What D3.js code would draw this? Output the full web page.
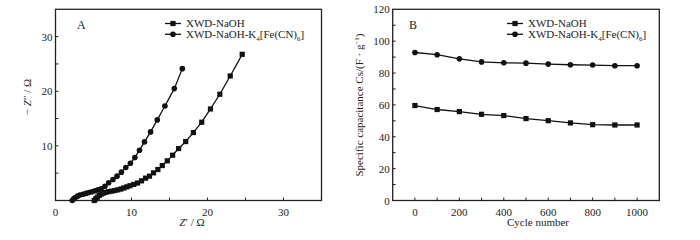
<!DOCTYPE html>
<html>
<head>
<meta charset="utf-8">
<script src="https://cdn.jsdelivr.net/npm/d3@7"></script>
<style>
  body { margin: 0; background: #fff; }
  svg { display: block; font-family: "Liberation Serif", "DejaVu Serif", serif; }
</style>
</head>
<body>
<div id="chart"></div>
<script>
// Panel A: Nyquist plot (Z' vs -Z'')
const naohZre = [5.1, 5.3, 5.5, 5.75, 6.0, 6.3, 6.6, 7.0, 7.4, 7.8, 8.2, 8.6, 9.0, 9.4, 9.8, 10.3,
  10.79, 11.32, 11.85, 12.37, 12.9, 13.47, 14.05, 14.71, 15.41, 16.2, 17.13, 18.14, 19.24, 20.39, 21.62, 22.99, 24.57];
const naohZim = [0.0, 0.3, 0.6, 0.9, 1.15, 1.35, 1.5, 1.62, 1.72, 1.82, 1.95, 2.1, 2.3, 2.5, 2.7, 2.95,
  3.2, 3.6, 4.09, 4.45, 5.06, 5.67, 6.4, 7.26, 8.29, 9.51, 10.79, 12.44, 14.33, 16.76, 19.45, 22.8, 26.76];
const kfeZre = [2.2, 2.4, 2.6, 2.9, 3.2, 3.6, 4.0, 4.4, 4.8, 5.2, 5.6, 6.0, 6.5, 7.0, 7.57, 8.1, 8.67,
  9.25, 9.86, 10.44, 11.05, 11.71, 12.51, 13.39, 14.4, 15.63, 16.69];
const kfeZim = [0.0, 0.3, 0.55, 0.8, 1.0, 1.15, 1.3, 1.45, 1.6, 1.78, 1.95, 2.15, 2.6, 3.24, 3.85, 4.46, 5.19,
  6.04, 6.83, 7.87, 9.21, 10.73, 12.56, 14.75, 17.31, 20.48, 24.14];

// Panel B: cycling stability
const cycles = [0, 100, 200, 300, 400, 500, 600, 700, 800, 900, 1000];
const naohCap = [59.6, 57.1, 55.8, 54.1, 53.3, 51.4, 50.1, 48.7, 47.6, 47.4, 47.4];
const kfeCap = [92.9, 91.5, 88.9, 87.0, 86.4, 86.2, 85.6, 85.2, 85.0, 84.6, 84.6];

const seriesNames = ['XWD-NaOH', 'XWD-NaOH-K4[Fe(CN)6]'];
const ticksA = [0, 10, 20, 30];
const ticksB_x = [0, 200, 400, 600, 800, 1000];
const ticksB_y = [0, 20, 40, 60, 80, 100, 120];

const width = 700;
const height = 240;
const ink = '#111';

const svg = d3.select('#chart').append('svg')
  .attr('width', width)
  .attr('height', height);

function drawPanel(opt) {
  const x = d3.scaleLinear().domain(opt.xDomain).range([opt.left, opt.right]);
  const y = d3.scaleLinear().domain(opt.yDomain).range([opt.bottom, opt.top]);
  const g = svg.append('g');

  // frame
  g.append('rect')
    .attr('x', opt.left).attr('y', opt.top)
    .attr('width', opt.right - opt.left).attr('height', opt.bottom - opt.top)
    .attr('fill', 'none').attr('stroke', '#222').attr('stroke-width', 1.3);

  // inward ticks, major and minor
  const xt = d3.range(opt.xDomain[0], opt.xDomain[1] + 1e-9, opt.xMinor)
    .filter(v => v > opt.xDomain[0] && v < opt.xDomain[1]);
  g.selectAll(null).data(xt).enter().append('line')
    .attr('x1', d => x(d)).attr('x2', d => x(d))
    .attr('y1', opt.bottom).attr('y2', opt.bottom - 3)
    .attr('stroke', '#222').attr('stroke-width', 1);
  const yt = d3.range(opt.yDomain[0], opt.yDomain[1] + 1e-9, opt.yMinor)
    .filter(v => v > opt.yDomain[0] && v < opt.yDomain[1]);
  g.selectAll(null).data(yt).enter().append('line')
    .attr('y1', d => y(d)).attr('y2', d => y(d))
    .attr('x1', opt.left).attr('x2', opt.left + 3)
    .attr('stroke', '#222').attr('stroke-width', 1);

  g.selectAll(null).data(opt.xTicks).enter().append('text')
    .attr('x', d => x(d)).attr('y', opt.bottom + 15)
    .attr('text-anchor', 'middle').attr('font-size', '11px').attr('fill', '#222')
    .text(d => d);
  g.selectAll(null).data(opt.yTicks).enter().append('text')
    .attr('x', opt.left - 3).attr('y', d => y(d) + 4)
    .attr('text-anchor', 'end').attr('font-size', '11px').attr('fill', '#222')
    .text(d => d);

  const line = d3.line().x(d => x(d[0])).y(d => y(d[1]));

  opt.series.forEach(s => {
    const pts = s.xs.map((v, i) => [v, s.ys[i]]);
    g.append('path').datum(pts)
      .attr('d', line).attr('fill', 'none')
      .attr('stroke', ink).attr('stroke-width', 1.3);
    drawMarkers(g, pts.map(p => [x(p[0]), y(p[1])]), s.shape);
  });

  // panel letter
  g.append('text').attr('x', opt.letterX).attr('y', 29)
    .attr('font-size', '12px').attr('fill', '#222').text(opt.letter);

  // legend (two tight rows, as in the original figure)
  opt.series.forEach((s, i) => {
    const ly = 23.5 + i * 10.8;
    g.append('line')
      .attr('x1', opt.legendX).attr('x2', opt.legendX + 16)
      .attr('y1', ly).attr('y2', ly)
      .attr('stroke', ink).attr('stroke-width', 1.3);
    drawMarkers(g, [[opt.legendX + 8, ly]], s.shape);
    const t = g.append('text')
      .attr('x', opt.legendX + 21).attr('y', ly + 3.8)
      .attr('font-size', '11px').attr('fill', '#222');
    if (i === 0) {
      t.text(seriesNames[0]);
    } else {
      t.append('tspan').text('XWD-NaOH-K');
      t.append('tspan').attr('font-size', '7px').attr('dy', 2.5).text('4');
      t.append('tspan').attr('dy', -2.5).text('[Fe(CN)');
      t.append('tspan').attr('font-size', '7px').attr('dy', 2.5).text('6');
      t.append('tspan').attr('dy', -2.5).text(']');
    }
  });

  return { x, y, g };
}

function drawMarkers(g, pts, shape) {
  if (shape === 'square') {
    g.selectAll(null).data(pts).enter().append('rect')
      .attr('x', d => d[0] - 2.6).attr('y', d => d[1] - 2.6)
      .attr('width', 5.2).attr('height', 5.2)
      .attr('fill', ink);
  } else {
    g.selectAll(null).data(pts).enter().append('circle')
      .attr('cx', d => d[0]).attr('cy', d => d[1])
      .attr('r', 2.8).attr('fill', ink);
  }
}

// Panel A
const pa = drawPanel({
  left: 55.5, right: 321.5, top: 9.3, bottom: 200.5,
  xDomain: [0, 35], yDomain: [0, 35],
  xTicks: ticksA, yTicks: ticksA.slice(1),
  xMinor: 5, yMinor: 5,
  letter: 'A', letterX: 77, legendX: 165,
  series: [
    { xs: naohZre, ys: naohZim, shape: 'square' },
    { xs: kfeZre, ys: kfeZim, shape: 'circle' }
  ]
});

const xlabA = pa.g.append('text').attr('x', 192).attr('y', 226)
  .attr('text-anchor', 'middle').attr('font-size', '11px').attr('fill', '#222');
xlabA.append('tspan').attr('font-style', 'italic').text('Z');
xlabA.append('tspan').text('′ / Ω');

const ylabA = pa.g.append('text')
  .attr('transform', 'translate(31,97) rotate(-90)')
  .attr('text-anchor', 'middle').attr('font-size', '11px').attr('fill', '#222');
ylabA.append('tspan').text('− ');
ylabA.append('tspan').attr('font-style', 'italic').text('Z');
ylabA.append('tspan').text('″ / Ω');

// Panel B
const pb = drawPanel({
  left: 392.7, right: 659.3, top: 9.3, bottom: 200.5,
  xDomain: [-100, 1100], yDomain: [0, 120],
  xTicks: ticksB_x, yTicks: ticksB_y,
  xMinor: 100, yMinor: 10,
  letter: 'B', letterX: 409, legendX: 507,
  series: [
    { xs: cycles, ys: naohCap, shape: 'square' },
    { xs: cycles, ys: kfeCap, shape: 'circle' }
  ]
});

pb.g.append('text').attr('x', 538).attr('y', 226)
  .attr('text-anchor', 'middle').attr('font-size', '11px').attr('fill', '#222')
  .text('Cycle number');

const ylabB = pb.g.append('text')
  .attr('transform', 'translate(363,105) rotate(-90)')
  .attr('text-anchor', 'middle').attr('font-size', '11px').attr('fill', '#222');
ylabB.append('tspan').text('Specific capacitance Cs/(F · g');
ylabB.append('tspan').attr('font-size', '7px').attr('dy', -4).text('−1');
ylabB.append('tspan').attr('dy', 4).text(')');
</script>
</body>
</html>
